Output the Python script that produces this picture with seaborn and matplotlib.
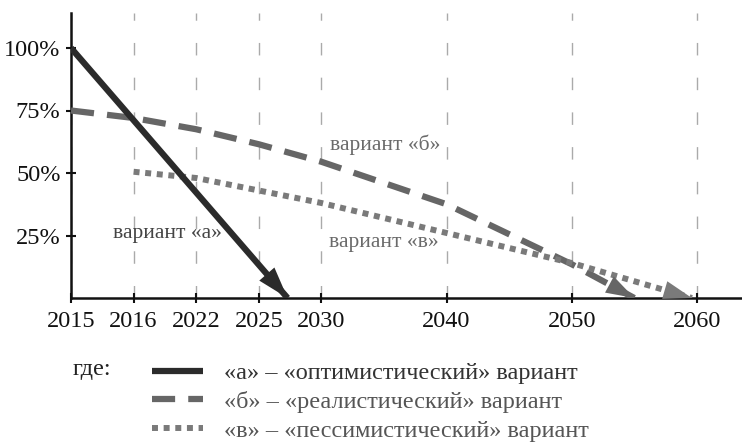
import numpy as np
import seaborn as sns
import matplotlib.pyplot as plt

# x axis: years are not evenly spaced in the original, each tick gets a slot
tick_years = [2015, 2016, 2022, 2025, 2030, 2040, 2050, 2060]
tick_slots = [0, 1, 2, 3, 4, 6, 8, 10]
pct_ticks = [25, 50, 75, 100]

# variant «а» - optimistic
a_years = [2015, 2027.3]
a_values = [100, 0]
# variant «б» - realistic
b_years = [2015, 2016, 2022, 2025, 2030, 2040, 2050, 2055]
b_values = [75, 72, 67.5, 61.5, 54.5, 37.5, 13.5, 0]
# variant «в» - pessimistic
v_years = [2016, 2022, 2025, 2030, 2040, 2050, 2059.6]
v_values = [50.5, 48, 43, 38, 26, 14, 0]

legend_labels = ['«а» – «оптимистический» вариант',
                 '«б» – «реалистический» вариант',
                 '«в» – «пессимистический» вариант']

sns.set_style('ticks')
plt.rcParams['font.family'] = ['Liberation Serif', 'DejaVu Serif']

# piecewise linear scale, extended far out on both sides
scale_years = np.array([1900] + tick_years + [2100], dtype=float)
scale_slots = np.array([-115] + tick_slots + [18], dtype=float)


def fwd(x):
    return np.interp(x, scale_years, scale_slots)


def inv(u):
    return np.interp(u, scale_slots, scale_years)


fig = plt.figure(figsize=(7.42, 4.45), dpi=100)
ax = fig.add_axes([71 / 742, 147 / 445, 671 / 742, 285 / 445])

col_a, col_b, col_v = '#2b2b2b', '#666666', '#7a7a7a'

sns.lineplot(x=a_years, y=a_values, ax=ax, color=col_a, lw=4.5,
             solid_capstyle='butt', label=legend_labels[0], zorder=4)
sns.lineplot(x=b_years, y=b_values, ax=ax, color=col_b, lw=4.5,
             linestyle=(0, (3.7, 2.1)), dash_capstyle='butt',
             label=legend_labels[1], zorder=3)
sns.lineplot(x=v_years, y=v_values, ax=ax, color=col_v, lw=4.3,
             linestyle=(0, (1.0, 0.95)), dash_capstyle='butt',
             label=legend_labels[2], zorder=3)
if ax.get_legend():
    ax.get_legend().remove()

ax.set_xscale('function', functions=(fwd, inv))
ax.set_xlim(2015, 2063.6)
ax.set_ylim(0, 114)
ax.set_xticks(tick_years)
ax.set_xticklabels([str(y) for y in tick_years])
ax.set_yticks(pct_ticks)
ax.set_yticklabels([f'{p}%' for p in pct_ticks])
ax.set_xlabel('')
ax.set_ylabel('')

ax.grid(axis='x', color='#aaaaaa', lw=1, linestyle=(0, (9, 16)))
ax.set_axisbelow(True)
sns.despine(ax=ax)
for s in ['left', 'bottom']:
    ax.spines[s].set_linewidth(1.8)
    ax.spines[s].set_color('#111111')
ax.tick_params(direction='inout', length=7, width=1.5, labelsize=17.5,
               colors='#111111')
ax.tick_params(axis='x', pad=6)
ax.tick_params(axis='y', pad=4)

# arrow heads at the ends of the lines
for xs, ys, c, hl, hw in [(a_years, a_values, col_a, 1.9, 0.6),
                          (b_years, b_values, col_b, 1.7, 0.55),
                          (v_years, v_values, col_v, 1.7, 0.55)]:
    ax.annotate('', xy=(xs[-1], ys[-1]), xytext=(xs[-2], ys[-2]),
                arrowprops=dict(arrowstyle=f'-|>,head_length={hl},head_width={hw}',
                                color=c, lw=0, shrinkA=0, shrinkB=0,
                                mutation_scale=12),
                zorder=5, annotation_clip=False)

ax.text(0.143, 0.228, 'вариант «а»', transform=ax.transAxes, ha='center',
        va='center', fontsize=15.5, color='#444444')
ax.text(0.468, 0.537, 'вариант «б»', transform=ax.transAxes, ha='center',
        va='center', fontsize=15.5, color='#6a6a6a')
ax.text(0.466, 0.196, 'вариант «в»', transform=ax.transAxes, ha='center',
        va='center', fontsize=15.5, color='#6a6a6a')

handles = ax.get_lines()[:3]
leg = fig.legend(handles, legend_labels, loc='upper left',
                 bbox_to_anchor=(152 / 742, 1 - 362 / 445), frameon=False,
                 fontsize=17.5, handlelength=2.1, handletextpad=0.85,
                 labelspacing=0.28, borderpad=0, borderaxespad=0)
for t, c in zip(leg.get_texts(), ['#333333', '#555555', '#555555']):
    t.set_color(c)
fig.text(73 / 742, 1 - 369 / 445, 'где:', fontsize=17.5, color='#222222',
         va='center', ha='left')

fig.savefig('out.png', dpi=100)
